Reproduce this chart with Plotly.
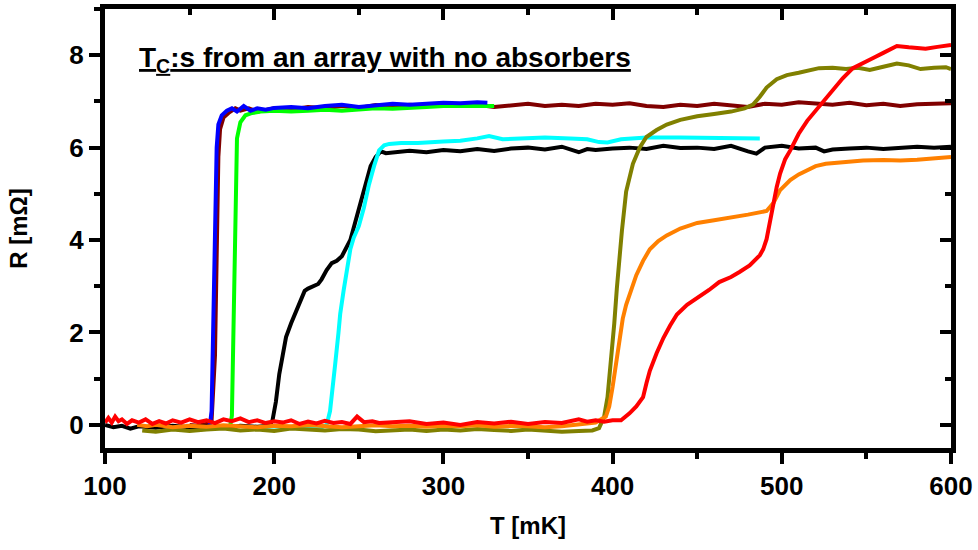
import plotly.graph_objects as go

# ---------------- data ----------------
black_x = [100, 105, 110, 115, 120, 130, 140, 150, 160, 170, 180, 190, 197, 199, 201, 203, 205, 207, 210, 213, 216, 218, 220, 223, 226, 228, 231, 234, 237, 240, 243, 245, 248, 251, 254, 257, 260, 263, 266, 270, 280, 290, 300, 310, 320, 330, 340, 350, 360, 370, 380, 385, 390, 400, 410, 420, 430, 440, 450, 460, 470, 480, 485, 490, 500, 510, 520, 525, 530, 540, 550, 560, 570, 580, 590, 600]
black_y = [0.0, -0.05, -0.02, -0.08, -0.03, -0.06, -0.02, -0.05, -0.03, -0.06, -0.02, -0.04, -0.02, 0.1, 0.5, 1.1, 1.5, 1.9, 2.2, 2.45, 2.75, 2.9, 2.95, 3.0, 3.05, 3.15, 3.35, 3.5, 3.55, 3.65, 3.85, 4.0, 4.4, 4.8, 5.2, 5.6, 5.8, 5.92, 5.88, 5.9, 5.93, 5.9, 5.95, 5.92, 5.97, 5.93, 5.98, 6.0, 5.96, 6.02, 5.9, 5.97, 5.95, 5.98, 6.0, 5.97, 6.04, 5.99, 6.0, 5.97, 6.04, 5.92, 5.87, 6.0, 6.04, 5.98, 6.0, 5.92, 5.96, 5.98, 6.0, 5.97, 5.99, 6.02, 6.0, 6.02]

maroon_x = [150, 155, 160, 163, 165, 166, 167, 168, 170, 173, 177, 180, 185, 190, 200, 210, 220, 230, 240, 250, 260, 270, 280, 290, 300, 310, 320, 330, 340, 350, 360, 370, 380, 390, 400, 410, 420, 430, 440, 450, 460, 470, 480, 490, 500, 510, 520, 530, 540, 550, 560, 570, 580, 590, 600]
maroon_y = [0.0, -0.02, 0.02, 0.1, 1.5, 4.0, 5.8, 6.4, 6.65, 6.75, 6.85, 6.8, 6.85, 6.78, 6.85, 6.82, 6.88, 6.85, 6.9, 6.86, 6.92, 6.88, 6.93, 6.9, 6.95, 6.9, 6.93, 6.88, 6.92, 6.95, 6.9, 6.93, 6.9, 6.95, 6.93, 6.96, 6.9, 6.88, 6.93, 6.9, 6.95, 6.92, 6.88, 6.95, 6.93, 6.98, 6.95, 6.93, 6.97, 6.92, 6.95, 6.9, 6.94, 6.96, 6.96]

green_x = [172, 174, 175, 175.6, 176.8, 178, 180, 183, 187, 192, 200, 210, 220, 230, 240, 250, 260, 270, 280, 290, 300, 310, 320, 330]
green_y = [-0.05, -0.02, 0.2, 1.67, 4.5, 6.2, 6.55, 6.7, 6.75, 6.78, 6.8, 6.78, 6.8, 6.82, 6.8, 6.83, 6.85, 6.84, 6.87, 6.88, 6.9, 6.9, 6.92, 6.9]

blue_x = [148, 152, 156, 160, 162, 163, 164, 165, 166, 167, 169, 172, 175, 178, 182, 186, 190, 195, 200, 210, 220, 230, 240, 250, 260, 270, 280, 290, 300, 310, 320, 326]
blue_y = [-0.02, -0.05, -0.08, -0.04, 0.0, 0.3, 2.0, 4.5, 6.0, 6.5, 6.7, 6.8, 6.85, 6.78, 6.9, 6.8, 6.85, 6.82, 6.86, 6.88, 6.85, 6.9, 6.93, 6.88, 6.92, 6.95, 6.93, 6.96, 6.97, 6.96, 6.98, 6.97]

cyan_x = [193, 200, 210, 220, 228, 231, 233, 235, 236, 238, 239, 241, 242, 244, 245, 247, 250, 253, 256, 259, 262, 265, 268, 275, 285, 300, 310, 320, 327, 335, 345, 360, 375, 385, 392, 397, 405, 420, 440, 460, 475, 487]
cyan_y = [-0.05, -0.03, -0.06, -0.04, -0.05, 0.0, 0.3, 0.9, 1.3, 2.0, 2.4, 2.9, 3.1, 3.6, 3.8, 4.05, 4.3, 4.7, 5.2, 5.6, 5.94, 6.05, 6.08, 6.1, 6.1, 6.13, 6.15, 6.2, 6.25, 6.18, 6.2, 6.22, 6.2, 6.18, 6.12, 6.11, 6.18, 6.22, 6.22, 6.21, 6.2, 6.2]

olive_x = [122, 130, 140, 150, 160, 170, 180, 190, 200, 210, 220, 230, 240, 250, 260, 270, 280, 290, 300, 310, 320, 330, 340, 350, 360, 370, 380, 388, 392, 395, 397, 399.5, 401, 402.5, 404, 405.5, 408, 412, 416, 420, 426, 432, 440, 450, 460, 470, 478, 483, 487, 491, 497, 503, 510, 522, 530, 538, 545, 552, 560, 568, 575, 582, 590, 597, 600]
olive_y = [-0.12, -0.15, -0.1, -0.13, -0.1, -0.08, -0.12, -0.1, -0.13, -0.08, -0.1, -0.12, -0.09, -0.1, -0.14, -0.12, -0.1, -0.13, -0.1, -0.12, -0.09, -0.11, -0.13, -0.1, -0.12, -0.15, -0.13, -0.12, -0.07, 0.18, 0.6, 1.5, 2.2, 2.95, 3.6, 4.2, 5.05, 5.65, 6.0, 6.23, 6.38, 6.5, 6.6, 6.68, 6.73, 6.78, 6.85, 6.93, 7.1, 7.3, 7.48, 7.57, 7.62, 7.72, 7.73, 7.7, 7.73, 7.68, 7.75, 7.82, 7.78, 7.7, 7.73, 7.74, 7.7]

orange_x = [119, 125, 130, 140, 150, 160, 170, 180, 190, 200, 210, 220, 230, 240, 250, 260, 270, 280, 290, 300, 310, 320, 330, 340, 350, 360, 370, 380, 390, 396, 398, 400, 402, 404, 406, 408, 411, 414, 418, 422, 427, 432, 440, 450, 460, 470, 480, 491, 495, 499, 505, 510, 515, 520, 526, 535, 548, 560, 570, 580, 590, 600]
orange_y = [0.0, -0.03, 0.0, -0.05, -0.02, -0.04, -0.01, -0.03, -0.05, -0.02, -0.03, 0.0, -0.02, -0.05, -0.03, -0.01, -0.03, -0.02, -0.04, -0.02, -0.03, -0.01, -0.04, -0.02, -0.03, -0.05, -0.03, 0.0, 0.05, 0.18, 0.4, 0.82, 1.3, 1.88, 2.3, 2.6, 2.95, 3.24, 3.55, 3.8, 3.98, 4.1, 4.25, 4.37, 4.43, 4.48, 4.55, 4.63, 4.8, 5.08, 5.3, 5.42, 5.5, 5.6, 5.65, 5.68, 5.72, 5.73, 5.72, 5.74, 5.77, 5.8]

red_x = [100, 102, 104, 106, 108, 110, 113, 116, 120, 124, 128, 132, 136, 140, 145, 150, 155, 160, 165, 170, 175, 180, 185, 190, 195, 200, 205, 210, 215, 220, 225, 230, 235, 240, 245, 249, 253, 258, 262, 270, 280, 290, 300, 310, 320, 330, 340, 350, 360, 370, 380, 385, 390, 395, 400, 405, 410, 414, 418, 420, 422, 426, 430, 434, 438, 444, 450, 457, 463, 470, 475, 481, 487, 489, 491, 493, 495, 497, 499, 502, 505, 510, 515, 520, 525, 530, 536, 542, 548, 554, 560, 568, 575, 585, 592, 600]
red_y = [0.05, 0.15, 0.05, 0.18, 0.08, 0.12, 0.02, 0.1, 0.05, 0.12, 0.02, 0.08, 0.03, 0.1, 0.05, 0.12, 0.06, 0.1, 0.04, 0.12, 0.08, 0.14, 0.06, 0.1, 0.04, 0.08, 0.05, 0.1, 0.02, 0.07, 0.03, 0.09, 0.04, 0.06, 0.02, 0.18, 0.06, 0.08, 0.04, 0.05, 0.08, 0.02, 0.05, 0.0, 0.06, 0.03, 0.07, 0.02, 0.06, 0.04, 0.12, 0.07, 0.1, 0.07, 0.1, 0.1, 0.25, 0.4, 0.6, 0.9, 1.17, 1.55, 1.88, 2.15, 2.39, 2.6, 2.74, 2.92, 3.09, 3.2, 3.31, 3.45, 3.67, 3.8, 4.02, 4.4, 4.8, 5.15, 5.44, 5.75, 5.94, 6.3, 6.58, 6.8, 7.0, 7.22, 7.5, 7.72, 7.82, 7.94, 8.05, 8.2, 8.17, 8.14, 8.18, 8.22]

x_ticks = [100, 200, 300, 400, 500, 600]
y_ticks = [0, 2, 4, 6, 8]
x_range = [100, 600]
y_range = [-0.5, 9]

# ---------------- figure ----------------
FONT = "Arial, Liberation Sans, sans-serif"
LW = 4
series = [
    (maroon_x, maroon_y, "#800000"),
    (green_x, green_y, "#00ff00"),
    (blue_x, blue_y, "#0000ff"),
    (black_x, black_y, "#000000"),
    (cyan_x, cyan_y, "#00ffff"),
    (olive_x, olive_y, "#808000"),
    (orange_x, orange_y, "#ff8000"),
]

fig = go.Figure()
for xs, ys, col in series:
    fig.add_trace(go.Scatter(x=xs, y=ys, mode="lines",
                             line=dict(color=col, width=LW),
                             showlegend=False, hoverinfo="skip"))
# red on top, on the mirrored (inside-tick) axes
fig.add_trace(go.Scatter(x=red_x, y=red_y, mode="lines", xaxis="x2", yaxis="y2",
                         line=dict(color="#ff0000", width=LW),
                         showlegend=False, hoverinfo="skip"))

tickfont = dict(family=FONT, size=26, color="black", weight="bold")
titlefont = dict(family=FONT, size=24, color="black", weight="bold")
AW = 5
TW = 4
fig.update_layout(
    width=978, height=550,
    margin=dict(l=105, r=27, t=4, b=102),
    paper_bgcolor="white", plot_bgcolor="white",
    font=dict(family=FONT, color="black"),
    xaxis=dict(range=x_range, tickvals=x_ticks, ticks="outside", ticklen=11, tickwidth=TW,
               tickcolor="black",
               showline=True, linewidth=AW, linecolor="black", mirror=True,
               showgrid=False, zeroline=False, tickfont=tickfont,
               minor=dict(ticks="outside", dtick=50, ticklen=6, tickwidth=TW, tickcolor="black", showgrid=False),
               title=dict(text="T [mK]", font=titlefont, standoff=18)),
    yaxis=dict(range=y_range, tickvals=y_ticks, ticks="outside", ticklen=11, tickwidth=TW,
               tickcolor="black",
               showline=True, linewidth=AW, linecolor="black", mirror=True,
               showgrid=False, zeroline=False, tickfont=tickfont,
               minor=dict(ticks="outside", dtick=1, ticklen=6, tickwidth=TW, tickcolor="black", showgrid=False),
               title=dict(text="R [mΩ]", font=titlefont, standoff=36)),
    xaxis2=dict(range=x_range, overlaying="x", side="top", anchor="y", tickvals=x_ticks,
                ticks="inside", ticklen=11, tickwidth=TW, tickcolor="black", showticklabels=False,
                showline=False, showgrid=False, zeroline=False,
                minor=dict(ticks="inside", dtick=50, ticklen=6, tickwidth=TW, tickcolor="black", showgrid=False)),
    yaxis2=dict(range=y_range, overlaying="y", side="right", anchor="x", tickvals=y_ticks,
                ticks="inside", ticklen=11, tickwidth=TW, tickcolor="black", showticklabels=False,
                showline=False, showgrid=False, zeroline=False,
                minor=dict(ticks="inside", dtick=1, ticklen=6, tickwidth=TW, tickcolor="black", showgrid=False)),
    annotations=[dict(text="<u>T<sub>C</sub>:s from an array with no absorbers</u>",
                      xref="paper", yref="paper", x=(137 - 105) / 846, y=(448 - 55) / 444,
                      xanchor="left", yanchor="middle", showarrow=False,
                      font=dict(family=FONT, size=28, color="black", weight="bold"))],
)

fig.write_html("out.html")
